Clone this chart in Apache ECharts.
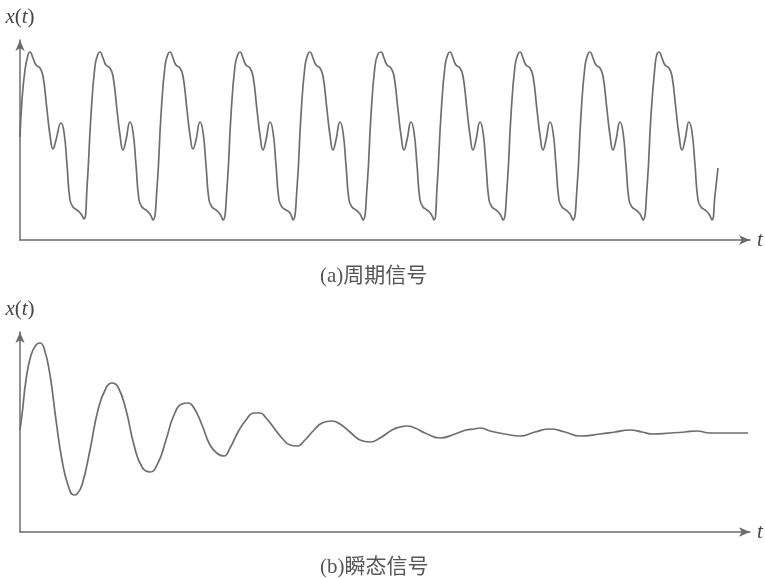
<!DOCTYPE html>
<html>
<head>
<meta charset="utf-8">
<script src="https://cdn.jsdelivr.net/npm/echarts@6/dist/echarts.min.js"></script>
<style>html,body{margin:0;padding:0;background:#fff}#c{width:765px;height:578px}</style>
</head>
<body>
<div id="c"></div>
<script>
// (a) periodic signal: [t, x(t)] points
const periodicSignal = [
  [0,103],[2,140],[5,170],[8,185],
  [10,188],[13,182],[16,175],[20,172],[23,164],[27,130],[30,105],[33,91],[36,100],[41,117],[44,108],[47,75],[50,40],[53,33],[57,30],[61,26],[64,21],[67,52],[71,125],[75,174],[78,186],
  [80,188],[83,182],[86,175],[90,172],[93,164],[97,130],[100,105],[103,90],[106,100],[110,118],[113,108],[116,75],[119,40],[122,33],[126,30],[130,26],[133,20],[137,52],[141,125],[145,174],[148,186],
  [150,188],[153,182],[156,175],[160,172],[163,164],[167,130],[170,105],[173,91],[176,100],[180,118],[183,108],[186,75],[189,40],[192,33],[196,30],[200,26],[203,20],[207,52],[211,125],[215,174],[218,186],
  [220,188],[223,182],[226,175],[230,172],[233,164],[237,130],[240,105],[243,90],[246,100],[250,118],[253,108],[256,75],[259,40],[262,33],[266,30],[270,27],[273,20],[277,52],[281,125],[285,174],[288,186],
  [290,188],[293,182],[296,175],[300,172],[303,164],[307,130],[310,105],[313,90],[316,100],[320,118],[323,108],[326,75],[329,40],[332,33],[336,30],[340,26],[343,20],[347,52],[351,125],[355,174],[358,186],
  [361,188],[364,182],[367,175],[371,172],[374,164],[378,130],[381,105],[384,90],[387,100],[391,118],[394,108],[397,75],[400,40],[403,33],[407,30],[411,26],[414,20],[417,52],[421,125],[425,174],[428,186],
  [430,188],[433,182],[436,175],[440,172],[443,164],[447,130],[450,105],[453,90],[456,100],[460,118],[463,108],[466,75],[469,40],[472,33],[476,30],[480,26],[483,20],[487,52],[491,125],[495,174],[498,186],
  [500,188],[503,182],[506,175],[510,172],[513,164],[517,130],[520,105],[523,90],[526,100],[530,118],[533,108],[536,75],[539,40],[542,33],[546,30],[550,26],[553,20],[557,52],[561,125],[565,174],[568,186],
  [570,188],[573,182],[576,175],[580,172],[583,164],[587,130],[590,105],[593,90],[596,100],[600,118],[603,108],[606,75],[609,40],[612,33],[616,30],[620,26],[623,20],[627,52],[631,125],[635,174],[637,186],
  [639,188],[642,182],[645,175],[649,172],[652,164],[656,130],[659,105],[662,90],[665,100],[669,118],[672,108],[675,75],[678,40],[681,33],[685,30],[689,26],[692,20],[695,45],[698,72]
];
// (b) transient signal: [t, x(t)] points
const transientSignal = [
  [0,102],[2,117],[6,152],[11,177],[16,187],[20,189],[24,184],[30,157],[36,112],[42,72],[48,47],[54,37],[57,38],[62,47],
  [70,82],[78,122],[86,144],[92,149],[98,145],[106,122],[114,87],[122,65],[130,60],[138,69],[146,92],[154,117],
  [162,128],[168,129],[174,124],[182,107],[190,87],[198,78],[204,76],[210,84],[218,100],[226,112],[234,119],[240,119],
  [246,114],[254,104],[262,94],[270,87],[277,86],[285,92],[294,102],[302,109],[312,111],[320,108],[330,100],[340,92],
  [350,90],[360,94],[372,102],[380,105],[387,106],[395,104],[405,99],[420,94],[435,98],[446,102],[454,103],[460,104],
  [470,101],[485,98],[500,96],[515,100],[530,103],[545,100],[560,96],[580,98],[595,100],[610,102],[622,100],[633,98],
  [650,99],[665,100],[677,101],[690,99],[710,99],[728,99]
];
const xName = 't';
const yName = '{i|x}({i|t})';
const captions = ['(a)周期信号', '(b)瞬态信号'];

const grey = '#6c6c6c';
const serif = '"Liberation Serif","DejaVu Serif",serif';
const cjk = '"Liberation Serif","Noto Sans CJK SC",serif';

function xAxisCfg(gi) {
  return {
    gridIndex: gi, type: 'value', min: 0, max: 730,
    axisLine: { show: true, lineStyle: { color: grey, width: 1.5 }, symbol: ['none', 'arrow'], symbolSize: [7, 11] },
    axisTick: { show: false }, axisLabel: { show: false }, splitLine: { show: false },
    name: xName, nameLocation: 'end', nameGap: 7,
    nameTextStyle: { fontFamily: serif, fontStyle: 'italic', fontSize: 21, color: '#444', verticalAlign: 'middle' }
  };
}
function yAxisCfg(gi) {
  return {
    gridIndex: gi, type: 'value', min: 0, max: 200,
    axisLine: { show: true, lineStyle: { color: grey, width: 1.5 }, symbol: ['none', 'arrow'], symbolSize: [7, 11] },
    axisTick: { show: false }, axisLabel: { show: false }, splitLine: { show: false },
    name: yName, nameLocation: 'end', nameGap: 12,
    nameTextStyle: { fontFamily: serif, fontSize: 21, color: '#444', rich: { i: { fontFamily: serif, fontStyle: 'italic', fontSize: 21, color: '#444' } } }
  };
}

const chart = echarts.init(document.getElementById('c'), null, { renderer: 'canvas' });
chart.setOption({
  backgroundColor: '#ffffff',
  animation: false,
  title: [
    { text: captions[0], left: 315, top: 261, textStyle: { fontFamily: cjk, fontSize: 21, fontWeight: 'normal', color: '#555' } },
    { text: captions[1], left: 315, top: 552, textStyle: { fontFamily: cjk, fontSize: 21, fontWeight: 'normal', color: '#555' } }
  ],
  grid: [
    { left: 20, right: 15, top: 40, height: 200 },
    { left: 20, right: 15, top: 332, height: 200 }
  ],
  xAxis: [xAxisCfg(0), xAxisCfg(1)],
  yAxis: [yAxisCfg(0), yAxisCfg(1)],
  series: [
    { type: 'line', xAxisIndex: 0, yAxisIndex: 0, data: periodicSignal, showSymbol: false, smooth: 0.5,
      lineStyle: { color: '#6e6e6e', width: 1.7 } },
    { type: 'line', xAxisIndex: 1, yAxisIndex: 1, data: transientSignal, showSymbol: false, smooth: 0.5,
      lineStyle: { color: '#6e6e6e', width: 1.7 } }
  ]
});
</script>
</body>
</html>
